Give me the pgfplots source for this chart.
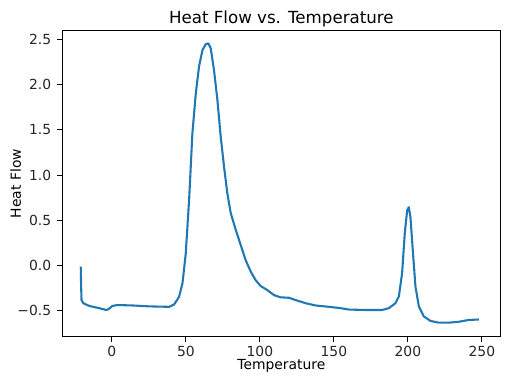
\documentclass[border=0pt]{standalone}
\usepackage{pgfplots}
\pgfplotsset{compat=1.18}
\usepackage{fontspec}
\setmainfont{DejaVu Sans}
\definecolor{c0}{HTML}{1F77B4}
\begin{document}
\begin{tikzpicture}
\begin{axis}[
  scale only axis,
  width=315.4pt, height=220.8pt,
  xmin=-33.45, xmax=262.45,
  ymin=-0.787, ymax=2.599,
  xtick={0,50,100,150,200,250},
  xticklabels={0,50,100,150,200,250},
  ytick={-0.5,0,0.5,1,1.5,2,2.5},
  yticklabels={−0.5,0.0,0.5,1.0,1.5,2.0,2.5},
  tick align=outside,
  xtick pos=bottom, ytick pos=left,
  major tick length=3.5pt,
  every tick/.style={black, line width=0.8pt},
  axis line style={line width=0.8pt},
  tick label style={font=\fontsize{10}{12}\selectfont, text=black!85},
  xticklabel style={yshift=0.5pt},
  yticklabel style={xshift=-1pt},
  title={Heat Flow vs. Temperature},
  title style={font=\fontsize{12}{14}\selectfont, yshift=-7.2pt},
  xlabel={Temperature},
  ylabel={Heat Flow},
  label style={font=\fontsize{10}{12}\selectfont},
  xlabel style={yshift=4.6pt},
  ylabel style={yshift=-9.5pt},
  clip=false,
]
\addplot[c0, line width=1.5pt, line join=round] coordinates {
(-21,-0.01) (-20.8,-0.2) (-20.5,-0.38) (-19.3,-0.415) (-15.3,-0.445) (-8.5,-0.47)
(-3.6,-0.49) (-2.2,-0.48) (0.4,-0.445) (3.8,-0.435) (14,-0.44) (25.2,-0.45)
(38.7,-0.455) (42,-0.43) (45.4,-0.345) (47.7,-0.195) (49.9,0.13) (52.2,0.73)
(54.4,1.46) (56.7,1.90) (58.9,2.20) (61.2,2.38) (63.4,2.445) (65.2,2.455)
(66.8,2.40) (69,2.16) (71.3,1.83) (73.5,1.43) (75.8,1.09) (78,0.80) (80.3,0.58)
(83.7,0.395) (87,0.23) (90.4,0.06) (93.8,-0.065) (97.1,-0.16) (100.5,-0.225)
(105,-0.27) (109.5,-0.325) (114,-0.35) (119.6,-0.355) (124.1,-0.38) (130.9,-0.415)
(137.6,-0.44) (146.6,-0.455) (153.4,-0.467) (160.1,-0.485) (171.4,-0.49)
(182.6,-0.49) (187.1,-0.47) (191.6,-0.415) (193.9,-0.34) (196.1,-0.08)
(197.9,0.36) (199.5,0.61) (200.6,0.645) (201.7,0.54) (203.3,0.17) (205.1,-0.23)
(207.4,-0.45) (210.7,-0.56) (215.2,-0.61) (220.8,-0.63) (227.6,-0.63)
(234.3,-0.62) (241.1,-0.60) (248,-0.595)
};
\end{axis}
\pgfresetboundingbox
\path[use as bounding box] (current axis.south west) ++(-44.9pt,-33.8pt) rectangle ([shift={(8.4pt,21.8pt)}]current axis.north east);
\end{tikzpicture}
\end{document}
